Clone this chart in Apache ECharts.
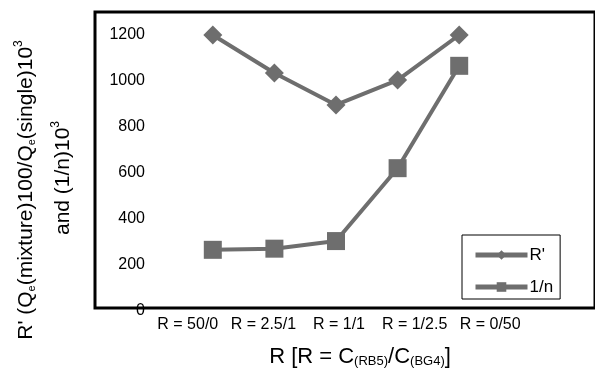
<!DOCTYPE html>
<html>
<head>
<meta charset="utf-8">
<script src="https://cdn.jsdelivr.net/npm/echarts@6/dist/echarts.min.js"></script>
<style>html,body{margin:0;padding:0;background:#fff}#c{width:595px;height:374px}</style>
</head>
<body>
<div id="c"></div>
<script>
const categories = ['R = 50/0', 'R = 2.5/1', 'R = 1/1', 'R = 1/2.5', 'R = 0/50'];
const rPrime = [1200, 1035, 896, 1004, 1200];
const invN = [266, 271, 304, 621, 1066];
const seriesNames = ["R'", '1/n'];

const FONT = '"Liberation Sans", Arial, sans-serif';
const GRAY = '#6e6e6e';

const chart = echarts.init(document.getElementById('c'), null, {renderer: 'canvas'});
chart.setOption({
  animation: false,
  backgroundColor: '#fff',
  grid: [
    {left: 95, top: 12, width: 520, height: 296, show: true, borderColor: '#000', borderWidth: 3, backgroundColor: 'transparent'},
    {left: 182, top: 12, width: 308, height: 299},
    {left: 150, top: 300, width: 378, height: 10}
  ],
  xAxis: [
    {gridIndex: 0, type: 'value', show: false, min: 0, max: 1},
    {gridIndex: 1, type: 'category', data: categories, show: false, boundaryGap: true},
    {gridIndex: 2, type: 'category', data: categories, boundaryGap: true,
     axisLine: {show: false}, axisTick: {show: false},
     axisLabel: {show: true, margin: 7, fontSize: 16, color: '#000', fontFamily: FONT, interval: 0}}
  ],
  yAxis: [
    {gridIndex: 0, type: 'value', show: false, min: 0, max: 1},
    {gridIndex: 1, type: 'value', min: 0, max: 1300, interval: 200,
     axisLine: {show: false}, axisTick: {show: false}, splitLine: {show: false},
     axisLabel: {margin: 37, fontSize: 16, color: '#000', fontFamily: FONT, showMaxLabel: false,
                 formatter: function (v) { return String(v); }}},
    {gridIndex: 2, type: 'value', show: false}
  ],
  legend: {
    left: 462, top: 235, orient: 'vertical',
    data: seriesNames,
    borderColor: '#000', borderWidth: 1,
    padding: [11, 7, 3, 11],
    itemGap: 14, itemWidth: 52, itemHeight: 12,
    lineStyle: {width: 5, color: GRAY},
    itemStyle: {color: GRAY},
    textStyle: {fontSize: 17, color: '#000', fontFamily: FONT, lineHeight: 18, padding: [0, 0, 0, -3]}
  },
  series: [
    {name: seriesNames[0], type: 'line', xAxisIndex: 1, yAxisIndex: 1, data: rPrime,
     symbol: 'diamond', symbolSize: 19, color: GRAY,
     lineStyle: {color: GRAY, width: 4}, itemStyle: {color: GRAY}},
    {name: seriesNames[1], type: 'line', xAxisIndex: 1, yAxisIndex: 1, data: invN,
     symbol: 'rect', symbolSize: 18, color: GRAY,
     lineStyle: {color: GRAY, width: 4}, itemStyle: {color: GRAY}}
  ],
  graphic: [
    {type: 'text', x: 360, y: 356,
     style: {
       text: '{m|R [R = C}{s|(RB5)}{m|/C}{s|(BG4)}{m|]}',
       align: 'center', verticalAlign: 'middle',
       fill: '#000', fontFamily: FONT,
       rich: {
         m: {fontSize: 22, lineHeight: 24, verticalAlign: 'bottom', fontFamily: FONT, fill: '#000'},
         s: {fontSize: 13, lineHeight: 10, verticalAlign: 'bottom', fontFamily: FONT, fill: '#000'}
       }
     }},
    {type: 'text', x: 25, y: 190, rotation: Math.PI / 2,
     style: {
       text: "{m|R' (Q}{s|e}{m|(mixture)100/Q}{s|e}{m|(single)10}{p|3}",
       align: 'center', verticalAlign: 'middle',
       fill: '#000', fontFamily: FONT,
       rich: {
         m: {fontSize: 21, lineHeight: 24, verticalAlign: 'bottom', fontFamily: FONT, fill: '#000'},
         s: {fontSize: 11, lineHeight: 10, verticalAlign: 'bottom', fontFamily: FONT, fill: '#000'},
         p: {fontSize: 12, lineHeight: 12, verticalAlign: 'top', fontFamily: FONT, fill: '#000'}
       }
     }},
    {type: 'text', x: 62, y: 178, rotation: Math.PI / 2,
     style: {
       text: '{m|and (1/n)10}{p|3}',
       align: 'center', verticalAlign: 'middle',
       fill: '#000', fontFamily: FONT,
       rich: {
         m: {fontSize: 21, lineHeight: 24, verticalAlign: 'bottom', fontFamily: FONT, fill: '#000'},
         p: {fontSize: 12, lineHeight: 12, verticalAlign: 'top', fontFamily: FONT, fill: '#000'}
       }
     }}
  ]
});
</script>
</body>
</html>
